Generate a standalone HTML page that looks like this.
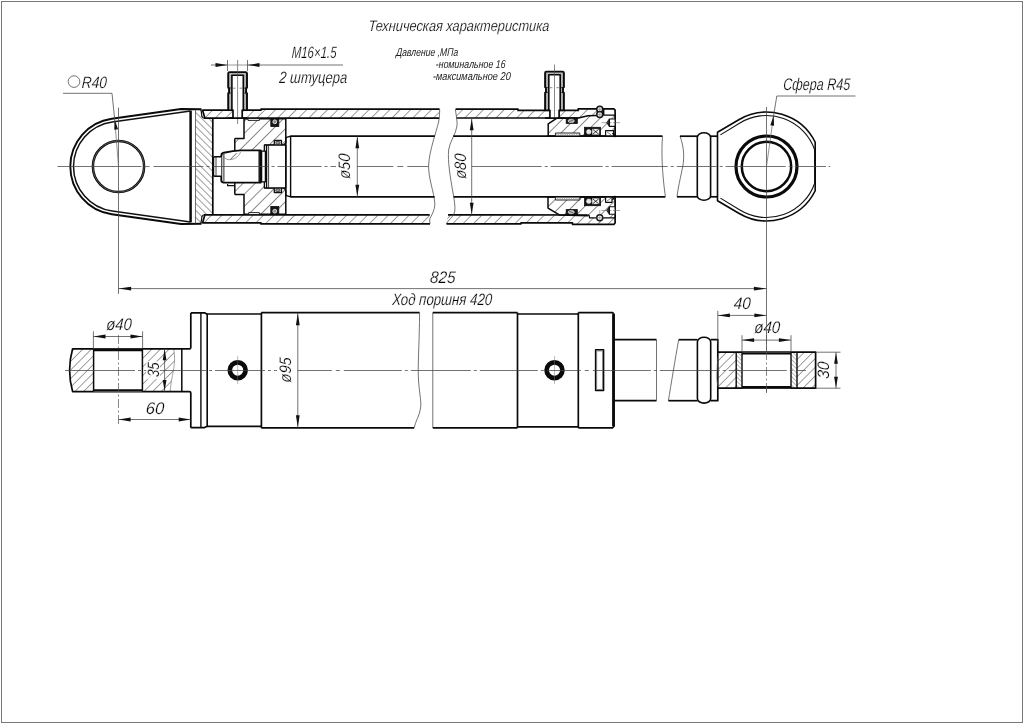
<!DOCTYPE html>
<html lang="ru"><head><meta charset="utf-8"><title>Гидроцилиндр</title>
<style>
html,body{margin:0;padding:0;background:#fff}
body{width:1024px;height:724px;overflow:hidden;font-family:"Liberation Sans",sans-serif}
svg{display:block;filter:grayscale(1)}
.k{fill:none;stroke:#0a0a0a;stroke-width:1.7;stroke-linejoin:round;stroke-linecap:butt}
.kw{fill:#fff;stroke:#0a0a0a;stroke-width:1.7;stroke-linejoin:round}
.m{fill:none;stroke:#111;stroke-width:1.2;stroke-linejoin:round}
.mw{fill:#fff;stroke:#111;stroke-width:1.2;stroke-linejoin:round}
.t{fill:none;stroke:#444;stroke-width:.75}
.c{fill:none;stroke:#444;stroke-width:.75;stroke-dasharray:58 3 3 3}
.c2{fill:none;stroke:#555;stroke-width:.7;stroke-dasharray:9 2.5 2 2.5}
.ar{fill:#111;stroke:none}
.d{fill:#151515;stroke:#0a0a0a;stroke-width:.8}
.tx,.ts{opacity:.99}
.tx{font-family:"Liberation Sans",sans-serif;font-style:italic;fill:#000;stroke:#fff;stroke-width:.22}
.ts{font-family:"Liberation Sans",sans-serif;font-style:italic;fill:#1a1a1a}
</style></head>
<body>
<svg width="1024" height="724" viewBox="0 0 1024 724">
<defs>
<pattern id="hA" width="7.35" height="7.35" patternUnits="userSpaceOnUse" patternTransform="rotate(-45)"><line x1="0" y1="0" x2="7.35" y2="0" stroke="#1a1a1a" stroke-width=".85"/></pattern>
<pattern id="hB" width="4.95" height="4.95" patternUnits="userSpaceOnUse" patternTransform="rotate(45)"><line x1="0" y1="0" x2="4.95" y2="0" stroke="#1a1a1a" stroke-width=".85"/></pattern>
<pattern id="hC" width="8.6" height="8.6" patternUnits="userSpaceOnUse" patternTransform="rotate(-45)"><line x1="0" y1="0" x2="8.6" y2="0" stroke="#151515" stroke-width="1"/></pattern>
<pattern id="hD" width="6.1" height="6.1" patternUnits="userSpaceOnUse" patternTransform="rotate(-45)"><line x1="0" y1="0" x2="6.1" y2="0" stroke="#1e1e1e" stroke-width=".85"/></pattern>
<pattern id="hE" width="3" height="3" patternUnits="userSpaceOnUse" patternTransform="rotate(45)"><line x1="0" y1="0" x2="3" y2="0" stroke="#2a2a2a" stroke-width=".7"/></pattern>
<pattern id="hF" width="1.6" height="1.6" patternUnits="userSpaceOnUse" patternTransform="rotate(-45)"><line x1="0" y1="0" x2="1.6" y2="0" stroke="#333" stroke-width=".7"/></pattern>
</defs>
<rect x="1.5" y="1.5" width="1021" height="721" fill="#fff" stroke="#777" stroke-width="1"/>
<g id="top-view">
<path class="k" d="M201.5 109.30 L181.00 109.04 L111.79 118.77 A48.20 48.20 0 0 0 111.79 214.23 L181.00 223.96 L201.5 223.70" style="stroke-width:1.9"/>
<path class="m" d="M190.50 110.94 L112.24 121.94 A45.00 45.00 0 0 0 112.24 211.06 L190.50 222.06" style="stroke-width:1.5"/>
<line class="k" x1="190.60" y1="110.64" x2="190.60" y2="222.36" style="stroke-width:2.5"/>
<circle class="k" cx="118.50" cy="166.50" r="25.60" style="stroke-width:2.5"/>
<circle class="t" cx="118.50" cy="166.50" r="25.60" style="stroke:#aaa;stroke-width:.45"/>
<polygon points="195.50,110.10 201.30,110.10 202.30,116.90 204.50,118.10 212.80,118.10 212.80,214.90 204.50,214.90 202.30,216.10 201.30,222.90 195.50,222.90" fill="url(#hB)" stroke="none" />
<line class="t" x1="195.50" y1="109.60" x2="195.50" y2="223.40" />
<polyline class="m" points="201.00,109.70 201.90,116.50 203.20,117.80" />
<polyline class="m" points="201.00,223.30 201.90,216.50 203.20,215.20" />
<line class="k" x1="212.80" y1="118.10" x2="212.80" y2="214.90" />
<polygon points="202.60,110.20 261.00,110.20 261.00,109.10 439.60,109.10 439.20,118.10 204.80,118.10" fill="url(#hA)" stroke="none" />
<polygon points="202.60,222.80 261.00,222.80 261.00,223.90 430.00,223.90 429.70,214.90 204.80,214.90" fill="url(#hA)" stroke="none" />
<polygon class="k" points="202.60,110.20 261.00,110.20 261.00,109.10 439.60,109.10 439.20,118.10 204.80,118.10" style="stroke:none"/>
<polyline class="k" points="204.80,118.10 202.60,110.20 261.00,110.20 261.00,109.10 439.60,109.10" />
<polyline class="k" points="203.50,118.10 439.20,118.10" />
<polyline class="k" points="204.80,214.90 202.60,222.80 261.00,222.80 261.00,223.90 430.00,223.90" />
<polyline class="k" points="203.50,214.90 429.70,214.90" />
<polygon points="455.60,109.10 518.00,109.10 518.00,110.40 578.20,110.40 578.20,108.90 603.70,108.90 603.70,115.00 596.40,115.40 588.00,115.80 578.40,118.10 456.40,118.10" fill="url(#hA)" stroke="none" />
<polygon points="446.50,223.90 521.00,223.80 521.00,222.90 572.50,222.90 572.50,224.30 613.90,224.30 615.10,223.00 615.10,217.80 589.40,217.80 588.00,215.70 448.00,214.90" fill="url(#hA)" stroke="none" />
<polyline class="k" points="455.60,109.10 518.00,109.10 518.00,110.40 578.20,110.40 578.20,108.90 603.70,108.90 613.90,108.90 615.10,110.20 615.10,115.10" />
<polyline class="k" points="456.40,118.10 578.40,118.10 588.00,115.80 596.40,115.40" style="stroke-width:1.5"/>
<polyline class="k" points="603.70,109.10 603.70,115.10 615.10,115.10" style="stroke-width:1.4"/>
<polyline class="k" points="446.50,223.90 521.00,223.80 521.00,222.90 572.50,222.90 572.50,224.30 613.90,224.30 615.10,223.00 615.10,217.80" />
<polyline class="k" points="448.00,214.90 587.20,215.00" />
<polyline class="k" points="586.60,215.20 589.00,215.20 589.60,217.80 615.10,217.80" style="stroke-width:1.3"/>
<path class="t" d="M439.7 109.10 C439.6 114 439.4 118 438.6 122 C436 133 429.5 150 428.6 165 C428.2 178 434 192 434.8 203 C435.2 211 430.5 216 429.6 220 L430 223.90" />
<path class="t" d="M455.4 109.10 C455.8 114 457.6 121 457 126 C456 134 449.5 142 448.6 150 C447.6 162 450.5 178 452.5 190 C454 198 455.6 207 454.6 212 C453.5 217 448 220 446.3 223.90" />
<line class="k" x1="290.60" y1="136.20" x2="434.80" y2="136.20" />
<line class="k" x1="290.60" y1="196.80" x2="434.60" y2="196.80" />
<line class="k" x1="453.30" y1="136.20" x2="662.50" y2="136.20" />
<line class="k" x1="453.60" y1="196.80" x2="665.30" y2="196.80" />
<path class="t" d="M662.5 136.20 C661.5 150 661.6 170 665.4 196.80" />
<path class="t" d="M680 136.20 C684.5 148 684.5 160 682 170 C680 180 678 188 677 196.80" />
<line class="k" x1="680.00" y1="136.20" x2="697.30" y2="136.20" />
<line class="k" x1="677.00" y1="196.80" x2="697.30" y2="196.80" />
<polygon points="244.00,118.70 285.80,118.70 285.80,143.00 283.60,145.00 264.20,145.00 264.20,150.20 240.50,150.20 234.80,151.50 234.80,138.40 244.00,138.40" fill="url(#hC)" stroke="none" />
<polygon points="244.00,214.30 285.80,214.30 285.80,190.00 283.60,188.00 264.20,188.00 264.20,182.80 240.50,182.80 234.80,181.50 234.80,194.60 244.00,194.60" fill="url(#hC)" stroke="none" />
<polyline class="k" points="234.80,138.40 244.00,138.40 244.00,118.70 285.80,118.70 285.80,143.00 283.60,145.00 264.20,145.00" style="stroke-width:1.5"/>
<polyline class="k" points="234.80,151.50 234.80,138.40" style="stroke-width:1.5"/>
<polyline class="k" points="234.80,194.60 244.00,194.60 244.00,214.30 285.80,214.30 285.80,190.00 283.60,188.00 264.20,188.00" style="stroke-width:1.5"/>
<polyline class="k" points="234.80,181.50 234.80,194.60" style="stroke-width:1.5"/>
<rect class="mw" x="248.00" y="118.50" width="11.40" height="1.90" style="stroke-width:.9"/>
<rect class="mw" x="248.70" y="212.60" width="10.70" height="1.90" style="stroke-width:.9"/>
<rect class="d" x="270.80" y="118.70" width="8.00" height="7.80" />
<circle class="t" cx="274.80" cy="121.80" r="1.90" style="stroke:#ddd;stroke-width:1;fill:#888"/>
<rect class="mw" x="274.30" y="140.50" width="7.20" height="4.60" style="stroke-width:1.3"/>
<ellipse cx="277.9" cy="142.80" rx="2.2" ry="1.5" fill="#999" stroke="#222" stroke-width=".7"/>
<rect class="d" x="270.80" y="206.50" width="8.00" height="7.80" />
<circle class="t" cx="274.80" cy="211.20" r="1.90" style="stroke:#ddd;stroke-width:1;fill:#888"/>
<rect class="mw" x="274.30" y="187.90" width="7.20" height="4.60" style="stroke-width:1.3"/>
<ellipse cx="277.9" cy="190.20" rx="2.2" ry="1.5" fill="#999" stroke="#222" stroke-width=".7"/>
<rect class="kw" x="264.40" y="145.10" width="21.40" height="42.80" style="stroke-width:1.4"/>
<line class="k" x1="266.60" y1="145.10" x2="266.60" y2="187.90" style="stroke-width:1.3"/>
<line class="m" x1="268.60" y1="145.10" x2="268.60" y2="187.90" style="stroke-width:.8"/>
<polyline class="k" points="285.80,137.70 290.60,136.20 290.60,196.80 285.80,195.30" style="stroke-width:1.4"/>
<line class="k" x1="285.80" y1="137.70" x2="285.80" y2="195.30" style="stroke-width:1.5"/>
<path class="kw" d="M260.8 150.40 L240.5 150.40 C233 150.70 226 152.30 223.2 152.90 C221.6 153.30 221.3 154.50 221.3 156.00 L221.3 180.10 C221.3 181.70 221.6 182.40 223.4 182.60 L260.8 182.60 Z" style="stroke-width:1.9"/>
<line class="m" x1="223.90" y1="154.00" x2="223.90" y2="181.50" style="stroke-width:.9"/>
<line class="k" x1="259.20" y1="150.50" x2="259.20" y2="182.50" style="stroke-width:1.4"/>
<rect class="kw" x="261.60" y="151.20" width="3.80" height="30.60" style="stroke-width:1.3"/>
<clipPath id="ce"><ellipse cx="231.5" cy="155.10" rx="9.4" ry="4.3" transform="rotate(-14 231.5 155.10)"/></clipPath>
<g clip-path="url(#ce)"><rect x="221.8" y="153.10" width="22" height="12" fill="url(#hC)"/></g>
<path class="t" d="M223.5 156.30 C226 162.30 238 160.10 240.6 151.90" style="stroke:#777;stroke-width:.7"/>
<path class="kw" d="M221.3 156.80 L214.8 156.80 Q213.4 156.80 213.4 158.20 L213.4 174.80 Q213.4 176.20 214.8 176.20 L221.3 176.20" style="stroke-width:1.6"/>
<line class="m" x1="216.00" y1="157.00" x2="216.00" y2="176.00" style="stroke-width:.8"/>
<polyline class="m" points="234.80,185.70 227.60,185.70 227.60,183.90" />
<rect x="228.20" y="72.10" width="18.80" height="38.10" fill="#fff"/>
<rect x="228.20" y="72.60" width="3.70" height="37.60" fill="#c4c4c4"/>
<rect x="243.30" y="72.60" width="3.70" height="37.60" fill="#c4c4c4"/>
<rect x="231.90" y="72.60" width="11.40" height="2.60" fill="#c4c4c4"/>
<rect x="228.20" y="72.60" width="18.80" height="37.60" fill="url(#hF)" opacity=".55"/>
<rect x="231.90" y="75.20" width="11.40" height="35.00" fill="#fff"/>
<path class="k" d="M228.20 110.20 L228.20 93.30 L229.10 92.70 L229.10 88.30 L228.20 87.70 L228.20 73.50 Q228.20 72.10 229.60 72.10 L245.60 72.10 Q247.00 72.10 247.00 73.50 L247.00 87.70 L246.10 88.30 L246.10 92.70 L247.00 93.30 L247.00 110.20" style="stroke-width:1.9"/>
<polyline class="k" points="231.90,110.20 231.90,75.30 243.30,75.30 243.30,110.20" style="stroke-width:1.6"/>
<line class="m" x1="228.20" y1="88.00" x2="230.80" y2="88.00" style="stroke-width:.9"/>
<line class="m" x1="247.00" y1="88.00" x2="244.40" y2="88.00" style="stroke-width:.9"/>
<line class="m" x1="228.20" y1="93.00" x2="230.80" y2="93.00" style="stroke-width:.9"/>
<line class="m" x1="247.00" y1="93.00" x2="244.40" y2="93.00" style="stroke-width:.9"/>
<line class="t" x1="232.70" y1="88.20" x2="235.50" y2="88.20" style="stroke:#666"/>
<line class="t" x1="242.50" y1="88.20" x2="239.50" y2="88.20" style="stroke:#666"/>
<rect x="233.00" y="110.00" width="9.20" height="8.10" fill="#fff"/>
<line class="k" x1="233.00" y1="109.60" x2="233.00" y2="118.10" style="stroke-width:1.7"/>
<line class="k" x1="242.20" y1="109.60" x2="242.20" y2="118.10" style="stroke-width:1.7"/>
<line class="k" x1="227.40" y1="110.20" x2="233.00" y2="110.20" />
<line class="k" x1="247.80" y1="110.20" x2="242.20" y2="110.20" />
<rect x="545.10" y="71.60" width="18.80" height="38.70" fill="#fff"/>
<rect x="545.10" y="72.10" width="3.70" height="38.20" fill="#c4c4c4"/>
<rect x="560.20" y="72.10" width="3.70" height="38.20" fill="#c4c4c4"/>
<rect x="548.80" y="72.10" width="11.40" height="2.60" fill="#c4c4c4"/>
<rect x="545.10" y="72.10" width="18.80" height="38.20" fill="url(#hF)" opacity=".55"/>
<rect x="548.80" y="74.70" width="11.40" height="35.60" fill="#fff"/>
<path class="k" d="M545.10 110.30 L545.10 92.80 L546.00 92.20 L546.00 87.80 L545.10 87.20 L545.10 73.00 Q545.10 71.60 546.50 71.60 L562.50 71.60 Q563.90 71.60 563.90 73.00 L563.90 87.20 L563.00 87.80 L563.00 92.20 L563.90 92.80 L563.90 110.30" style="stroke-width:1.9"/>
<polyline class="k" points="548.80,110.30 548.80,74.80 560.20,74.80 560.20,110.30" style="stroke-width:1.6"/>
<line class="m" x1="545.10" y1="87.50" x2="547.70" y2="87.50" style="stroke-width:.9"/>
<line class="m" x1="563.90" y1="87.50" x2="561.30" y2="87.50" style="stroke-width:.9"/>
<line class="m" x1="545.10" y1="92.50" x2="547.70" y2="92.50" style="stroke-width:.9"/>
<line class="m" x1="563.90" y1="92.50" x2="561.30" y2="92.50" style="stroke-width:.9"/>
<line class="t" x1="549.60" y1="87.70" x2="552.40" y2="87.70" style="stroke:#666"/>
<line class="t" x1="559.40" y1="87.70" x2="556.40" y2="87.70" style="stroke:#666"/>
<rect x="549.90" y="110.10" width="9.20" height="8.00" fill="#fff"/>
<line class="k" x1="549.90" y1="109.70" x2="549.90" y2="118.10" style="stroke-width:1.7"/>
<line class="k" x1="559.10" y1="109.70" x2="559.10" y2="118.10" style="stroke-width:1.7"/>
<line class="k" x1="544.30" y1="110.30" x2="549.90" y2="110.30" />
<line class="k" x1="564.70" y1="110.30" x2="559.10" y2="110.30" />
<line class="t" x1="237.60" y1="59.80" x2="237.60" y2="124.00" style="stroke:#555;stroke-width:.7"/>
<line class="t" x1="554.50" y1="64.50" x2="554.50" y2="118.00" style="stroke:#555;stroke-width:.7"/>
<polyline class="k" points="228.00,118.10 247.00,118.10" />
<polyline class="k" points="545.00,118.10 565.00,118.10" />
<polygon points="548.20,135.90 548.20,123.90 556.60,118.30 578.40,118.10 588.00,115.80 596.40,115.40 603.70,115.10 615.10,115.10 615.10,135.90" fill="url(#hC)" stroke="none" />
<polyline class="k" points="615.10,135.90 548.20,135.90 548.20,123.90 556.60,118.30 578.40,118.10" style="stroke-width:1.5"/>
<polyline class="k" points="615.10,136.90 615.10,115.10" style="stroke-width:1.8"/>
<rect class="mw" x="555.40" y="133.00" width="24.40" height="2.90" style="stroke-width:.9"/>
<rect x="556.2" y="133.80" width="22.8" height="1.5" fill="url(#hF)"/>
<rect class="d" x="566.20" y="118.20" width="11.10" height="5.20" />
<ellipse cx="571.2" cy="120.90" rx="3.1" ry="1.7" fill="#b5b5b5" stroke="#f2f2f2" stroke-width=".6"/>
<line class="t" x1="569.00" y1="121.90" x2="573.40" y2="119.90" style="stroke:#333;stroke-width:.6"/>
<rect class="d" x="584.60" y="127.30" width="15.80" height="8.30" />
<circle class="t" cx="588.80" cy="131.80" r="2.30" style="fill:#e4e4e4;stroke:#fff;stroke-width:.5"/>
<rect class="t" x="592.40" y="129.10" width="6.60" height="5.20" style="fill:#f0f0f0;stroke:#fff;stroke-width:.4"/>
<line class="t" x1="592.60" y1="134.20" x2="598.80" y2="129.20" style="stroke:#111;stroke-width:.8"/>
<line class="t" x1="592.60" y1="129.20" x2="598.80" y2="134.20" style="stroke:#111;stroke-width:.8"/>
<rect class="mw" x="605.60" y="130.70" width="8.00" height="5.20" style="stroke-width:1.2"/>
<line class="t" x1="607.00" y1="131.90" x2="611.00" y2="134.90" style="stroke:#333;stroke-width:.6"/>
<polyline class="k" points="612.40,133.10 614.40,135.30 615.40,137.10" style="stroke-width:1.4"/>
<polygon points="615.10,119.00 609.40,119.00 609.40,126.40 615.10,126.40" fill="#fff" stroke="#111" stroke-width="1.1"/>
<polygon points="609.40,119.00 606.60,122.70 609.40,126.40" fill="#222" stroke="#111" stroke-width=".8"/>
<line class="t" x1="601.50" y1="122.70" x2="620.20" y2="122.70" style="stroke:#666;stroke-width:.6;stroke-dasharray:7 1.5 1.5 1.5"/>
<polygon points="548.00,196.90 548.00,208.10 559.30,214.90 588.00,215.70 589.40,217.80 615.10,217.80 615.10,196.90" fill="url(#hC)" stroke="none" />
<polyline class="k" points="615.10,196.90 548.00,196.90 548.00,208.10 559.30,214.90 588.00,215.70" style="stroke-width:1.5"/>
<polyline class="k" points="615.10,196.10 615.10,217.90" style="stroke-width:1.8"/>
<rect class="mw" x="555.40" y="197.10" width="24.40" height="2.90" style="stroke-width:.9"/>
<rect x="556.2" y="197.70" width="22.8" height="1.5" fill="url(#hF)"/>
<rect class="d" x="566.20" y="209.60" width="11.10" height="5.20" />
<ellipse cx="571.2" cy="212.10" rx="3.1" ry="1.7" fill="#b5b5b5" stroke="#f2f2f2" stroke-width=".6"/>
<line class="t" x1="569.00" y1="211.10" x2="573.40" y2="213.10" style="stroke:#333;stroke-width:.6"/>
<rect class="d" x="584.60" y="197.40" width="15.80" height="8.30" />
<circle class="t" cx="588.80" cy="201.20" r="2.30" style="fill:#e4e4e4;stroke:#fff;stroke-width:.5"/>
<rect class="t" x="592.40" y="198.70" width="6.60" height="5.20" style="fill:#f0f0f0;stroke:#fff;stroke-width:.4"/>
<line class="t" x1="592.60" y1="198.80" x2="598.80" y2="203.80" style="stroke:#111;stroke-width:.8"/>
<line class="t" x1="592.60" y1="203.80" x2="598.80" y2="198.80" style="stroke:#111;stroke-width:.8"/>
<rect class="mw" x="605.60" y="197.10" width="6.40" height="5.20" style="stroke-width:1.2"/>
<line class="t" x1="607.00" y1="201.10" x2="611.00" y2="198.10" style="stroke:#333;stroke-width:.6"/>
<polyline class="k" points="612.40,199.90 614.40,197.70 615.40,195.90" style="stroke-width:1.4"/>
<polygon points="615.10,206.80 609.40,206.80 609.40,214.20 615.10,214.20" fill="#fff" stroke="#111" stroke-width="1.1"/>
<polygon points="609.40,206.80 606.60,210.50 609.40,214.20" fill="#222" stroke="#111" stroke-width=".8"/>
<line class="t" x1="601.50" y1="210.50" x2="620.20" y2="210.50" style="stroke:#666;stroke-width:.6;stroke-dasharray:7 1.5 1.5 1.5"/>
<circle class="mw" cx="599.75" cy="109.30" r="3.00" style="stroke-width:1.5;fill:#f4f4f4"/>
<circle class="mw" cx="599.75" cy="114.60" r="3.00" style="stroke-width:1.5;fill:#f4f4f4"/>
<circle class="mw" cx="599.75" cy="217.80" r="3.00" style="stroke-width:1.4"/>
<line class="t" x1="599.75" y1="105.00" x2="599.75" y2="119.00" style="stroke:#666;stroke-width:.5"/>
<line class="t" x1="596.80" y1="109.30" x2="602.70" y2="109.30" style="stroke:#666;stroke-width:.5"/>
<line class="t" x1="596.80" y1="114.60" x2="602.70" y2="114.60" style="stroke:#666;stroke-width:.5"/>
<line class="t" x1="599.75" y1="210.00" x2="599.75" y2="223.50" style="stroke:#666;stroke-width:.5"/>
<line class="t" x1="595.00" y1="217.80" x2="604.50" y2="217.80" style="stroke:#666;stroke-width:.5"/>
<path class="kw" d="M697.3 195.70 L697.3 137.30 A6.65 4.6 0 0 1 710.6 137.30 L710.6 195.70 A6.65 4.6 0 0 1 697.3 195.70 Z" style="stroke-width:1.6"/>
<line class="k" x1="710.60" y1="136.20" x2="717.50" y2="136.20" />
<line class="k" x1="710.60" y1="196.80" x2="717.50" y2="196.80" />
<path class="k" d="M717.50 132.30 L738.77 119.70 A54.40 54.40 0 0 1 815.20 142.26 L815.20 190.74 A54.40 54.40 0 0 1 738.77 213.30 L717.50 200.70 Z" style="stroke-width:1.6"/>
<path class="m" d="M720.40 134.90 L739.91 122.98 A51.00 51.00 0 0 1 814.60 149.55 L814.60 183.45 A51.00 51.00 0 0 1 739.91 210.02 L720.40 198.10" style="stroke-width:1.1"/>
<circle class="k" cx="766.50" cy="166.50" r="30.50" style="stroke-width:3.2"/>
<circle class="k" cx="766.50" cy="166.50" r="24.70" style="stroke-width:2.5"/>
<line class="c" x1="57.50" y1="166.50" x2="336.00" y2="166.50" style="stroke-dasharray:84 4 4 4 50 3 3 3 56 3 3 3 44 3 3 3"/>
<line class="c" x1="357.30" y1="166.50" x2="428.60" y2="166.50" style="stroke-dasharray:36 4 6 4 40"/>
<line class="c" x1="471.70" y1="166.50" x2="826.00" y2="166.50" style="stroke-dasharray:70 3 3 3 52 3 3 3 56 3 3 3 40 3 3 3 60 3 3 3"/>
<line class="t" x1="828.60" y1="166.50" x2="830.20" y2="166.50" />
<line class="t" x1="118.50" y1="107.60" x2="118.50" y2="293.80" style="stroke:#444;stroke-width:.75"/>
<line class="t" x1="766.50" y1="107.00" x2="766.50" y2="393.00" style="stroke:#444;stroke-width:.75"/>
</g>
<g id="dims-top">
<polyline class="t" points="63.00,93.30 112.00,93.30 114.70,119.40" />
<line class="t" x1="114.70" y1="119.40" x2="118.50" y2="166.50" style="stroke:#666;stroke-width:.7"/>
<polygon class="ar" points="114.75,119.60 118.02,129.24 114.26,129.77"/>
<circle class="t" cx="74.00" cy="81.60" r="5.80" style="stroke:#444"/>
<text class="tx" transform="translate(81.60 87.50) scale(0.833 1) skewX(-4)" font-size="16.40" text-anchor="start">R40</text>
<line class="t" x1="211.00" y1="65.00" x2="227.50" y2="65.00" />
<line class="t" x1="247.50" y1="65.00" x2="343.00" y2="65.00" />
<line class="t" x1="227.50" y1="65.00" x2="247.50" y2="65.00" style="stroke:#777"/>
<polygon class="ar" points="227.50,65.00 215.50,66.90 215.50,63.10"/>
<polygon class="ar" points="247.50,65.00 259.50,63.10 259.50,66.90"/>
<line class="t" x1="227.50" y1="60.00" x2="227.50" y2="71.00" />
<line class="t" x1="247.50" y1="60.00" x2="247.50" y2="71.00" />
<text class="tx" transform="translate(291.40 58.40) scale(0.699 1) skewX(-4)" font-size="16.40" text-anchor="start">М16×1.5</text>
<text class="tx" transform="translate(279.00 83.30) scale(0.795 1) skewX(-4)" font-size="16.40" text-anchor="start">2 штуцера</text>
<text class="tx" transform="translate(368.20 31.20) scale(0.841 1) skewX(-4)" font-size="15.20" text-anchor="start">Техническая характеристика</text>
<text class="ts" transform="translate(396.00 56.40) scale(0.756 1) skewX(-4)" font-size="11.40" text-anchor="start">Давление ,МПа</text>
<text class="ts" transform="translate(435.60 68.20) scale(0.775 1) skewX(-4)" font-size="11.40" text-anchor="start">-номинальное 16</text>
<text class="ts" transform="translate(432.70 80.40) scale(0.807 1) skewX(-4)" font-size="11.40" text-anchor="start">-максимальное 20</text>
<polyline class="t" points="855.50,96.00 776.80,96.00 773.50,116.20" />
<line class="t" x1="773.50" y1="116.20" x2="766.50" y2="166.50" style="stroke:#666;stroke-width:.7"/>
<polygon class="ar" points="773.60,115.60 774.09,125.77 770.33,125.24"/>
<text class="tx" transform="translate(783.00 90.00) scale(0.745 1) skewX(-4)" font-size="16.80" text-anchor="start">Сфера R45</text>
<line class="t" x1="357.30" y1="136.20" x2="357.30" y2="196.80" />
<polygon class="ar" points="357.30,136.80 359.20,148.30 355.40,148.30"/>
<polygon class="ar" points="357.30,196.20 355.40,184.70 359.20,184.70"/>
<text class="tx" transform="translate(350.40 166.50) rotate(-90) scale(0.879 1) skewX(-4)" font-size="16.60" text-anchor="middle">ø50</text>
<line class="t" x1="471.70" y1="118.10" x2="471.70" y2="214.90" />
<polygon class="ar" points="471.70,118.70 473.60,130.20 469.80,130.20"/>
<polygon class="ar" points="471.70,214.30 469.80,202.80 473.60,202.80"/>
<text class="tx" transform="translate(465.60 166.50) rotate(-90) scale(0.879 1) skewX(-4)" font-size="16.60" text-anchor="middle">ø80</text>
<line class="t" x1="118.50" y1="288.60" x2="766.50" y2="288.60" />
<polygon class="ar" points="118.60,288.60 131.10,286.70 131.10,290.50"/>
<polygon class="ar" points="766.40,288.60 753.90,290.50 753.90,286.70"/>
<text class="tx" transform="translate(442.50 282.60) scale(0.909 1) skewX(-4)" font-size="16.80" text-anchor="middle">825</text>
<text class="tx" transform="translate(392.00 304.80) scale(0.807 1) skewX(-4)" font-size="16.40" text-anchor="start">Ход поршня 420</text>
</g>
<g id="side-view">
<clipPath id="cl1"><path d="M72.6 348.80 Q66.6 370.20 72.6 391.60 L93.4 391.60 L93.4 348.80 Z"/></clipPath>
<rect x="66" y="348.80" width="30" height="44" fill="url(#hD)" clip-path="url(#cl1)"/>
<clipPath id="cl2"><path d="M142.6 348.80 L173.6 348.80 C175.2 356.20 174.6 362.20 173.8 368.20 C173 374.20 171.0 380.20 170.2 391.60 L142.6 391.60 Z"/></clipPath>
<rect x="142" y="348.80" width="34" height="44" fill="url(#hD)" clip-path="url(#cl2)"/>
<path class="t" d="M173.6 348.80 C175.2 356.20 174.6 362.20 173.8 368.20 C173 374.20 171.0 380.20 170.2 391.60" style="stroke:#666;stroke-width:.6"/>
<path class="k" d="M190.8 312.90 L190.8 347.40 Q190.8 348.80 189.4 348.80 L72.6 348.80 Q66.6 370.20 72.6 391.60 L189.4 391.60 Q190.8 391.60 190.8 393.00 L190.8 427.80" />
<rect x="93.4" y="348.80" width="49.2" height="42.80" fill="#fff"/>
<line class="k" x1="93.40" y1="350.00" x2="142.60" y2="350.00" style="stroke-width:2.4"/>
<line class="k" x1="93.40" y1="390.40" x2="142.60" y2="390.40" style="stroke-width:2.4"/>
<line class="k" x1="93.60" y1="348.80" x2="93.60" y2="391.60" style="stroke-width:1.5"/>
<line class="k" x1="142.40" y1="348.80" x2="142.40" y2="391.60" style="stroke-width:1.5"/>
<line class="k" x1="181.80" y1="348.80" x2="181.80" y2="391.60" style="stroke-width:1.5"/>
<polyline class="k" points="190.80,312.80 204.60,312.80 207.20,314.20" />
<polyline class="k" points="190.80,427.60 204.60,427.60 207.20,426.20" />
<line class="k" x1="200.90" y1="312.60" x2="200.90" y2="427.80" style="stroke-width:1.4"/>
<line class="k" x1="207.20" y1="314.00" x2="207.20" y2="426.40" style="stroke-width:1.6"/>
<line class="k" x1="207.00" y1="314.00" x2="261.20" y2="314.00" />
<line class="k" x1="207.00" y1="426.40" x2="261.20" y2="426.40" />
<line class="k" x1="261.40" y1="312.60" x2="261.40" y2="427.80" />
<line class="k" x1="261.20" y1="312.60" x2="419.60" y2="312.60" />
<line class="k" x1="261.20" y1="427.80" x2="414.20" y2="427.80" />
<path class="t" d="M419.6 312.60 C419.4 340 418.0 360 418.3 375 C418.8 392 421.6 400 420.6 408 C419.6 416 415 422 414.2 427.80" />
<line class="t" x1="432.80" y1="312.60" x2="432.80" y2="427.80" />
<line class="k" x1="432.80" y1="312.60" x2="517.50" y2="312.60" />
<line class="k" x1="432.80" y1="427.80" x2="517.50" y2="427.80" />
<line class="k" x1="517.50" y1="312.60" x2="517.50" y2="427.80" />
<line class="k" x1="517.50" y1="314.00" x2="578.30" y2="314.00" />
<line class="k" x1="517.50" y1="426.80" x2="578.30" y2="426.80" />
<line class="k" x1="578.30" y1="312.60" x2="578.30" y2="427.80" />
<polyline class="k" points="578.30,312.60 612.60,312.60 614.00,314.20 614.00,426.20 612.60,427.80 578.30,427.80" />
<line class="k" x1="613.40" y1="314.10" x2="613.40" y2="426.30" style="stroke-width:2.6"/>
<circle class="k" cx="237.70" cy="370.20" r="7.90" style="stroke-width:4.7"/>
<line class="t" x1="237.70" y1="356.20" x2="237.70" y2="384.20" style="stroke:#777;stroke-width:.5"/>
<circle class="k" cx="554.50" cy="370.20" r="7.90" style="stroke-width:4.7"/>
<line class="t" x1="554.50" y1="356.20" x2="554.50" y2="384.20" style="stroke:#777;stroke-width:.5"/>
<rect class="k" x="595.60" y="349.80" width="8.00" height="40.80" style="stroke-width:1.5"/>
<rect class="t" x="596.80" y="351.00" width="5.60" height="38.40" style="stroke:#555;stroke-width:.6"/>
<polyline class="k" points="614.30,339.70 656.50,339.70" />
<polyline class="k" points="614.30,400.70 656.50,400.70" />
<line class="t" x1="656.50" y1="339.70" x2="656.50" y2="400.70" />
<path class="t" d="M678.7 339.70 C675 360 671 385 668.4 400.70" />
<line class="k" x1="678.70" y1="339.70" x2="697.40" y2="339.70" />
<line class="k" x1="668.40" y1="400.70" x2="697.40" y2="400.70" />
<path class="kw" d="M697.4 398.50 L697.4 341.90 A6.65 4.6 0 0 1 710.7 341.90 L710.7 398.50 A6.65 4.6 0 0 1 697.4 398.50 Z" style="stroke-width:1.6"/>
<polyline class="k" points="710.70,339.70 717.80,339.70 717.80,400.70 710.70,400.70" />
<clipPath id="cr1"><path d="M719.2 352.20 C717 360.20 717.6 366.20 716.8 373.20 C716.4 380.20 717.6 384.20 718.6 388.20 L736.2 388.20 L736.2 352.20 Z"/></clipPath>
<rect x="714" y="352.20" width="24" height="37" fill="url(#hD)" clip-path="url(#cr1)"/>
<path class="t" d="M719.2 352.20 C717 360.20 717.6 366.20 716.8 373.20 C716.4 380.20 717.6 384.20 718.6 388.20" style="stroke:#666;stroke-width:.6"/>
<rect x="797" y="352.20" width="18.6" height="36" fill="url(#hD)"/>
<rect x="736.2" y="352.20" width="5.8" height="36" fill="url(#hE)"/>
<rect x="791" y="352.20" width="6" height="36" fill="url(#hE)"/>
<polyline class="k" points="717.80,352.20 815.60,352.20 815.60,388.20 717.80,388.20" />
<rect x="742" y="352.20" width="49" height="36.00" fill="#fff"/>
<line class="k" x1="742.00" y1="353.30" x2="791.00" y2="353.30" style="stroke-width:2.3"/>
<line class="k" x1="742.00" y1="387.10" x2="791.00" y2="387.10" style="stroke-width:2.3"/>
<line class="k" x1="736.20" y1="352.20" x2="736.20" y2="388.20" style="stroke-width:1.4"/>
<line class="k" x1="742.00" y1="352.20" x2="742.00" y2="388.20" style="stroke-width:1.4"/>
<line class="k" x1="791.00" y1="352.20" x2="791.00" y2="388.20" style="stroke-width:1.4"/>
<line class="k" x1="797.00" y1="352.20" x2="797.00" y2="388.20" style="stroke-width:1.4"/>
<line class="c" x1="65.00" y1="370.50" x2="277.00" y2="370.50" style="stroke-dasharray:70 3 3 3 62 3 3 3 50 3 3 3"/>
<line class="c" x1="297.80" y1="370.50" x2="806.00" y2="370.50" style="stroke-dasharray:34 4 4 4 58 3 3 3 60 3 3 3 58 3 3 3"/>
<line class="c2" x1="118.50" y1="335.00" x2="118.50" y2="425.80" />
<line class="c2" x1="766.50" y1="335.00" x2="766.50" y2="393.00" />
</g>
<g id="dims-side">
<line class="t" x1="93.40" y1="331.40" x2="93.40" y2="348.80" />
<line class="t" x1="142.60" y1="331.40" x2="142.60" y2="348.80" />
<line class="t" x1="93.40" y1="336.50" x2="142.60" y2="336.50" />
<polygon class="ar" points="93.50,336.50 105.50,334.60 105.50,338.40"/>
<polygon class="ar" points="142.50,336.50 130.50,338.40 130.50,334.60"/>
<text class="tx" transform="translate(106.00 329.60) scale(0.880 1) skewX(-4)" font-size="16.80" text-anchor="start">ø40</text>
<line class="t" x1="164.60" y1="348.80" x2="164.60" y2="391.60" />
<polygon class="ar" points="164.60,349.30 166.50,360.30 162.70,360.30"/>
<polygon class="ar" points="164.60,391.10 162.70,380.10 166.50,380.10"/>
<rect x="146" y="361.20" width="14" height="18" fill="#fff" opacity=".8"/>
<text class="tx" transform="translate(159.40 370.00) rotate(-90) scale(0.806 1) skewX(-4)" font-size="16.40" text-anchor="middle">35</text>
<line class="t" x1="118.50" y1="419.50" x2="190.80" y2="419.50" />
<polygon class="ar" points="118.60,419.50 130.60,417.60 130.60,421.40"/>
<polygon class="ar" points="190.70,419.50 178.70,421.40 178.70,417.60"/>
<text class="tx" transform="translate(145.60 413.70) scale(0.977 1) skewX(-4)" font-size="16.80" text-anchor="start">60</text>
<line class="t" x1="297.80" y1="312.60" x2="297.80" y2="427.80" />
<polygon class="ar" points="297.80,313.20 299.70,325.20 295.90,325.20"/>
<polygon class="ar" points="297.80,427.20 295.90,415.20 299.70,415.20"/>
<text class="tx" transform="translate(290.80 370.20) rotate(-90) scale(0.879 1) skewX(-4)" font-size="16.60" text-anchor="middle">ø95</text>
<line class="t" x1="717.80" y1="310.80" x2="717.80" y2="344.20" />
<line class="t" x1="717.80" y1="315.40" x2="766.50" y2="315.40" />
<polygon class="ar" points="717.90,315.40 729.90,313.50 729.90,317.30"/>
<polygon class="ar" points="766.40,315.40 754.40,317.30 754.40,313.50"/>
<text class="tx" transform="translate(733.60 309.40) scale(0.902 1) skewX(-4)" font-size="16.80" text-anchor="start">40</text>
<line class="t" x1="742.00" y1="335.20" x2="742.00" y2="352.20" />
<line class="t" x1="791.00" y1="335.20" x2="791.00" y2="352.20" />
<line class="t" x1="742.00" y1="340.10" x2="791.00" y2="340.10" />
<polygon class="ar" points="742.10,340.10 754.10,338.20 754.10,342.00"/>
<polygon class="ar" points="790.90,340.10 778.90,342.00 778.90,338.20"/>
<text class="tx" transform="translate(754.10 333.20) scale(0.887 1) skewX(-4)" font-size="16.80" text-anchor="start">ø40</text>
<line class="t" x1="815.60" y1="352.20" x2="840.50" y2="352.20" />
<line class="t" x1="815.60" y1="388.20" x2="840.50" y2="388.20" />
<line class="t" x1="836.00" y1="352.20" x2="836.00" y2="388.20" />
<polygon class="ar" points="836.00,352.70 837.90,363.70 834.10,363.70"/>
<polygon class="ar" points="836.00,387.70 834.10,376.70 837.90,376.70"/>
<text class="tx" transform="translate(829.30 370.50) rotate(-90) scale(0.926 1) skewX(-4)" font-size="16.60" text-anchor="middle">30</text>
</g>
</svg>
</body></html>
